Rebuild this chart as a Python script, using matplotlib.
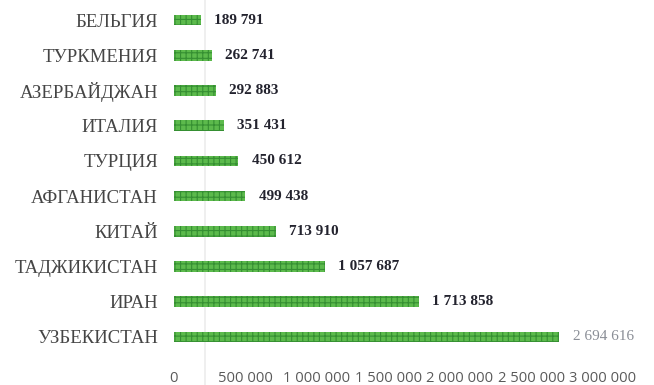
import matplotlib
matplotlib.use('Agg')
import matplotlib.pyplot as plt
from matplotlib.lines import Line2D

# countries listed bottom-to-top as drawn
countries = ['УЗБЕКИСТАН', 'ИРАН', 'ТАДЖИКИСТАН', 'КИТАЙ', 'АФГАНИСТАН',
             'ТУРЦИЯ', 'ИТАЛИЯ', 'АЗЕРБАЙДЖАН', 'ТУРКМЕНИЯ', 'БЕЛЬГИЯ']
values = [2694616, 1713858, 1057687, 713910, 499438,
          450612, 351431, 292883, 262741, 189791]
xticks = [0, 500000, 1000000, 1500000, 2000000, 2500000, 3000000]


def fmt(v):
    return f'{v:,}'.replace(',', ' ')


plt.rcParams['hatch.linewidth'] = 0.8

fig = plt.figure(figsize=(6.54, 3.85), dpi=100)
ax = fig.add_axes([174 / 654, 1 - 354.6 / 385, 429 / 654, 352.2 / 385])
ax.patch.set_alpha(0)

ypos = range(len(countries))
ax.barh(ypos, values, height=0.3, color='#5cba4c', edgecolor='#358f32',
        linewidth=0, hatch='+++')

# value labels at bar ends
for i, v in enumerate(values):
    last = i == 0
    ax.annotate(fmt(v), (v, i), xytext=(9.5, 0), textcoords='offset points',
                va='center', ha='left', family='Liberation Serif', fontsize=11,
                fontweight='normal' if last else 'bold',
                color='#8a8e96' if last else '#23232e')

ax.set_xlim(0, 3000000)
ax.set_ylim(-0.5, len(countries) - 0.5)
ax.set_yticks(list(ypos))
ax.set_yticklabels(countries, family='Liberation Serif', fontsize=13.5,
                   color='#454545')
ax.set_xticks(xticks)
ax.set_xticklabels([fmt(t) for t in xticks], family='Open Sans', fontsize=10.6,
                   color='#5a5a5a')
ax.tick_params(axis='y', length=0, pad=11.5)
ax.tick_params(axis='x', length=0, pad=12)
for s in ax.spines.values():
    s.set_visible(False)

# faint vertical crease across the sheet
fig.add_artist(Line2D([205 / 654, 205 / 654], [0, 1], color='#ececec', lw=1.2,
                      zorder=0))

fig.savefig('out.png', dpi=100)
